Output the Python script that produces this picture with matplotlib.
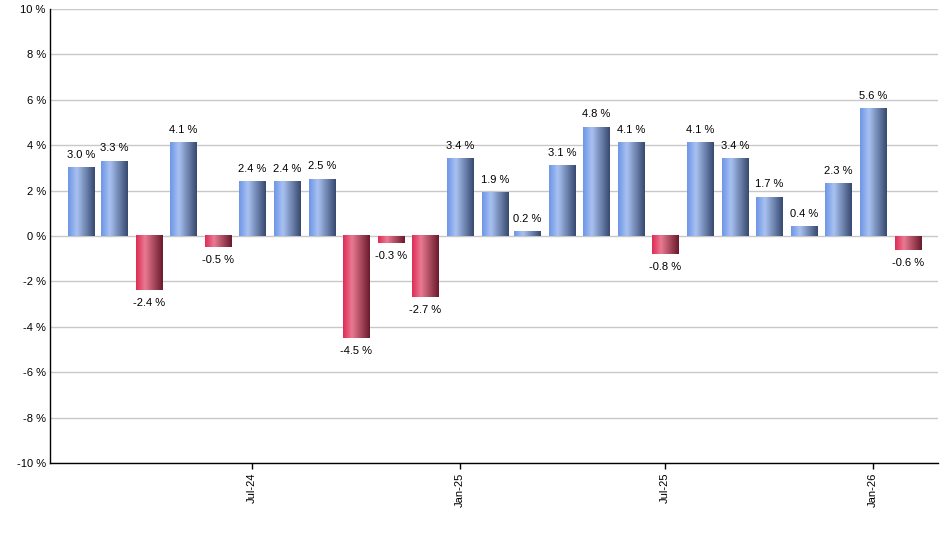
import matplotlib
matplotlib.use('Agg')
import matplotlib.pyplot as plt
import matplotlib.dates as mdates
from matplotlib.colors import LinearSegmentedColormap
import numpy as np
import pandas as pd

plt.rcParams.update({
    'font.family': ['Liberation Sans', 'DejaVu Sans'],
    'font.size': 8,
})

months = pd.date_range('2024-02-01', periods=25, freq='MS')
returns = [3.0, 3.3, -2.4, 4.1, -0.5, 2.4, 2.4, 2.5, -4.5, -0.3, -2.7, 3.4, 1.9,
           0.2, 3.1, 4.8, 4.1, -0.8, 4.1, 3.4, 1.7, 0.4, 2.3, 5.6, -0.6]
tick_months = ['2024-07-01', '2025-01-01', '2025-07-01', '2026-01-01']
yticks = [-10, -8, -6, -4, -2, 0, 2, 4, 6, 8, 10]

blue_cmap = LinearSegmentedColormap.from_list(
    'blue', [(0, '#6e96e6'), (0.33, '#a9c2f2'), (1, '#37496f')])
red_cmap = LinearSegmentedColormap.from_list(
    'red', [(0, '#de2c55'), (0.33, '#ea7a92'), (1, '#6a1a2c')])

fig = plt.figure(figsize=(9.4, 5.5), dpi=100)
ax = fig.add_axes([50 / 940, 1 - 463 / 550, 888 / 940, 454 / 550])

x = mdates.date2num(months.to_pydatetime())
width = 23.4
grad = np.linspace(0, 1, 64).reshape(1, -1)

bars = ax.bar(x, returns, width=width, color='none', edgecolor='none', zorder=3)
for b, v in zip(bars, returns):
    x0, w = b.get_x(), b.get_width()
    y0, y1 = min(0, v), max(0, v)
    # slight shadow on the right
    ax.add_patch(plt.Rectangle((x0 + 0.8, y0), w, y1 - y0, color='#9a9a9a',
                               alpha=0.6, zorder=2, linewidth=0))
    cmap = blue_cmap if v >= 0 else red_cmap
    ax.imshow(grad, cmap=cmap, aspect='auto', extent=(x0, x0 + w, y0, y1),
              zorder=3, interpolation='bicubic')

for xi, v in zip(x, returns):
    if v >= 0:
        ax.text(xi, v + 0.35, f'{v:.1f} %', ha='center', va='bottom', fontsize=8)
    else:
        ax.text(xi, v - 0.35, f'{v:.1f} %', ha='center', va='top', fontsize=8)

ax.set_ylim(-10, 10)
ax.set_xlim(x[0] - 27.7, x[-1] + 26.5)
ax.set_yticks(yticks)
ax.set_yticklabels([f'{t} %' for t in yticks])
ax.yaxis.grid(True, color='#c8c8c8', linewidth=1)
ax.set_axisbelow(True)

tick_x = mdates.date2num(pd.to_datetime(tick_months).to_pydatetime())
ax.set_xticks(tick_x)
ax.set_xticklabels([pd.Timestamp(t).strftime('%b-%y') for t in tick_months], rotation=90)
ax.tick_params(axis='x', length=4, width=1, pad=3)
ax.tick_params(axis='y', length=0, pad=3)

for s in ['top', 'right']:
    ax.spines[s].set_visible(False)
for s in ['left', 'bottom']:
    ax.spines[s].set_color('black')
    ax.spines[s].set_linewidth(1)

fig.savefig('out.png', dpi=100)
